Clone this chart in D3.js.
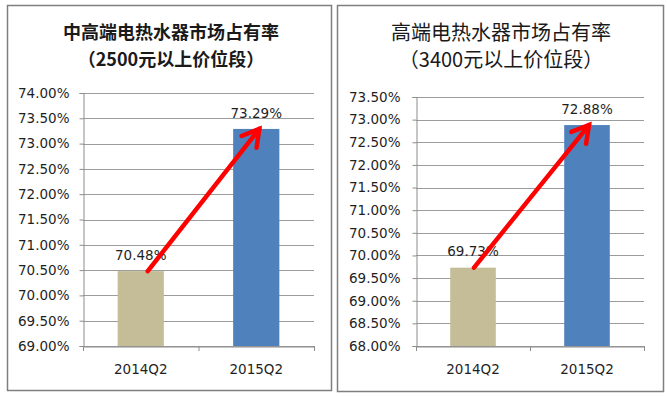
<!DOCTYPE html>
<html>
<head>
<meta charset="utf-8">
<script src="https://cdn.jsdelivr.net/npm/d3@7"></script>
<style>
  html, body { margin: 0; padding: 0; background: #fff; }
  svg { display: block; }
  .tick text { font-family: "DejaVu Sans", Verdana, sans-serif; }
</style>
</head>
<body>
<svg id="chart" width="667" height="396"></svg>
<script>
// ---- data ----
const categories = ['2014Q2', '2015Q2'];
const midHighShare = [70.48, 73.29];   // 2500元以上
const highShare = [69.73, 72.88];      // 3400元以上
const midHighTitle = ['中高端电热水器市场占有率', '（2500元以上价位段）'];
const highTitle = ['高端电热水器市场占有率', '（3400元以上价位段）'];
const midHighRange = [69, 74];
const highRange = [68, 73.5];

const barColors = ['#C4BD97', '#4F81BD'];
const svg = d3.select('#chart');

function panel(opt) {
  const g = svg.append('g');

  // frame
  g.append('rect')
    .attr('x', opt.box[0] + 0.5).attr('y', opt.box[1] + 0.5)
    .attr('width', opt.box[2]).attr('height', opt.box[3])
    .attr('fill', '#fff').attr('stroke', '#7F7F7F').attr('stroke-width', 1.5);

  // title, two lines
  opt.title.forEach((t, i) => {
    g.append('text')
      .attr('x', opt.titleX).attr('y', 33 + i * 27)
      .attr('dy', '0.35em')
      .attr('text-anchor', 'middle')
      .attr('font-family', '"Noto Sans CJK SC", sans-serif')
      .attr('font-size', opt.titleSize)
      .attr('font-weight', opt.titleWeight[i])
      .attr('fill', '#1a1a1a')
      .text(t);
  });

  const x = d3.scaleBand().domain(categories).range([opt.left, opt.right]);
  const y = d3.scaleLinear().domain(opt.range).range([opt.bottom, opt.top]);
  const ticks = d3.range(opt.range[0], opt.range[1] + 0.001, 0.5);

  // gridlines
  g.append('g').selectAll('line').data(ticks).join('line')
    .attr('x1', opt.left).attr('x2', opt.right)
    .attr('y1', d => Math.round(y(d)) + 0.5).attr('y2', d => Math.round(y(d)) + 0.5)
    .attr('stroke', '#9C9C9C').attr('stroke-width', 1);

  // y axis
  const yAxis = g.append('g')
    .attr('transform', `translate(${opt.left + 0.5},0)`)
    .call(d3.axisLeft(y).tickValues(ticks).tickSize(4).tickPadding(opt.labelGap)
      .tickFormat(d => d.toFixed(2) + '%'));
  yAxis.select('.domain').attr('stroke', '#8C8C8C');
  yAxis.selectAll('.tick line').attr('stroke', '#8C8C8C');
  yAxis.selectAll('.tick text').attr('font-size', 13.5).attr('fill', '#1f1f1f');

  // bars
  g.append('g').selectAll('rect').data(opt.values).join('rect')
    .attr('x', (d, i) => x(categories[i]) + x.bandwidth() * 0.3)
    .attr('width', x.bandwidth() * 0.4)
    .attr('y', d => y(d))
    .attr('height', d => y(opt.range[0]) - y(d))
    .attr('fill', (d, i) => barColors[i]);

  // x axis
  const xAxis = g.append('g')
    .attr('transform', `translate(0,${opt.bottom + 0.5})`)
    .call(d3.axisBottom(x).tickSize(0).tickPadding(18));
  xAxis.select('.domain').attr('stroke', '#8C8C8C');
  xAxis.selectAll('.tick text').attr('font-size', 13.5).attr('fill', '#1f1f1f');
  // category boundary ticks
  g.append('g').selectAll('line').data(x.range().concat([x(categories[1])])).join('line')
    .attr('x1', d => d + 0.5).attr('x2', d => d + 0.5)
    .attr('y1', opt.bottom).attr('y2', opt.bottom + 5)
    .attr('stroke', '#8C8C8C');

  // value labels
  g.append('g').selectAll('text').data(opt.values).join('text')
    .attr('x', (d, i) => x(categories[i]) + x.bandwidth() / 2)
    .attr('y', d => y(d) - 16)
    .attr('dy', '0.35em')
    .attr('text-anchor', 'middle')
    .attr('font-family', '"DejaVu Sans", Verdana, sans-serif')
    .attr('font-size', 13.5).attr('fill', '#1f1f1f')
    .text(d => d.toFixed(2) + '%');

  // red trend arrow
  const x0 = x(categories[0]) + x.bandwidth() / 2 + opt.arrowShift[0];
  const y0 = y(opt.values[0]);
  const x1 = x(categories[1]) + x.bandwidth() / 2 + opt.arrowShift[1];
  const y1 = y(opt.values[1]);
  const ang = Math.atan2(y1 - y0, x1 - x0);
  const head = 19, spread = Math.PI / 6;
  g.append('line')
    .attr('x1', x0).attr('y1', y0).attr('x2', x1).attr('y2', y1)
    .attr('stroke', '#FF0000').attr('stroke-width', 4.5).attr('stroke-linecap', 'round');
  g.append('polyline')
    .attr('points', [
      [x1 - head * Math.cos(ang - spread), y1 - head * Math.sin(ang - spread)],
      [x1, y1],
      [x1 - head * Math.cos(ang + spread), y1 - head * Math.sin(ang + spread)]
    ].map(p => p.join(',')).join(' '))
    .attr('fill', 'none').attr('stroke', '#FF0000').attr('stroke-width', 4.5)
    .attr('stroke-linecap', 'round').attr('stroke-linejoin', 'miter');
}

panel({
  box: [7, 5, 324, 385], title: midHighTitle, titleX: 171, titleSize: 18,
  titleWeight: ['bold', 'bold'], labelGap: 10,
  left: 83, right: 314, top: 93, bottom: 346,
  range: midHighRange, values: midHighShare, arrowShift: [7, 3]
});

panel({
  box: [337, 5, 326, 386], title: highTitle, titleX: 501, titleSize: 20,
  titleWeight: ['normal', 'normal'], labelGap: 12,
  left: 416, right: 644, top: 97, bottom: 346,
  range: highRange, values: highShare, arrowShift: [1, 2]
});
</script>
</body>
</html>
